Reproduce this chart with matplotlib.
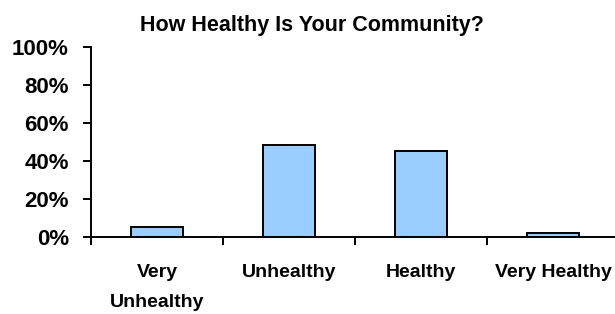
#!/usr/bin/env python3
"""Community health survey bar chart."""
import matplotlib
matplotlib.use("Agg")
import matplotlib.pyplot as plt
from matplotlib.ticker import FixedLocator, PercentFormatter

categories = ["Very\nUnhealthy", "Unhealthy", "Healthy", "Very Healthy"]
shares = [5.2, 48.4, 45.3, 2.2]  # percent of respondents
y_ticks = [0, 20, 40, 60, 80, 100]

plt.rcParams["font.family"] = ["Liberation Sans", "DejaVu Sans"]
plt.rcParams["font.weight"] = "bold"

fig = plt.figure(figsize=(6.15, 3.14), dpi=100)
ax = fig.add_axes([91 / 615, 76.7 / 314, 528 / 615, 190.6 / 314])

x = range(len(categories))
ax.bar(x, shares, width=0.4, color="#99CCFF", edgecolor="black", linewidth=1.4, zorder=3)

ax.set_xlim(-0.5, len(categories) - 0.5)
ax.set_ylim(0, 100)
ax.set_yticks(y_ticks)
ax.yaxis.set_major_formatter(PercentFormatter(decimals=0))
ax.set_xticks(list(x))
ax.set_xticklabels(categories, fontsize=14, linespacing=2.0, va="top", fontweight="bold")
ax.xaxis.set_minor_locator(FixedLocator([i - 0.5 for i in range(len(categories))]))

ax.tick_params(axis="x", which="major", length=0, pad=19)
ax.tick_params(axis="x", which="minor", length=6, width=1.4, direction="out")
ax.tick_params(axis="y", length=6, width=1.4, direction="out", pad=10, labelsize=16)
for lbl in ax.get_yticklabels():
    lbl.set_fontweight("bold")

for side in ("top", "right"):
    ax.spines[side].set_visible(False)
for side in ("left", "bottom"):
    ax.spines[side].set_linewidth(1.4)
ax.spines["bottom"].set_zorder(4)

fig.text(0.508, 1 - 30.7 / 314, "How Healthy Is Your Community?", fontsize=15.5,
         fontweight="bold", ha="center", va="baseline")

fig.savefig("out.png", dpi=100)
